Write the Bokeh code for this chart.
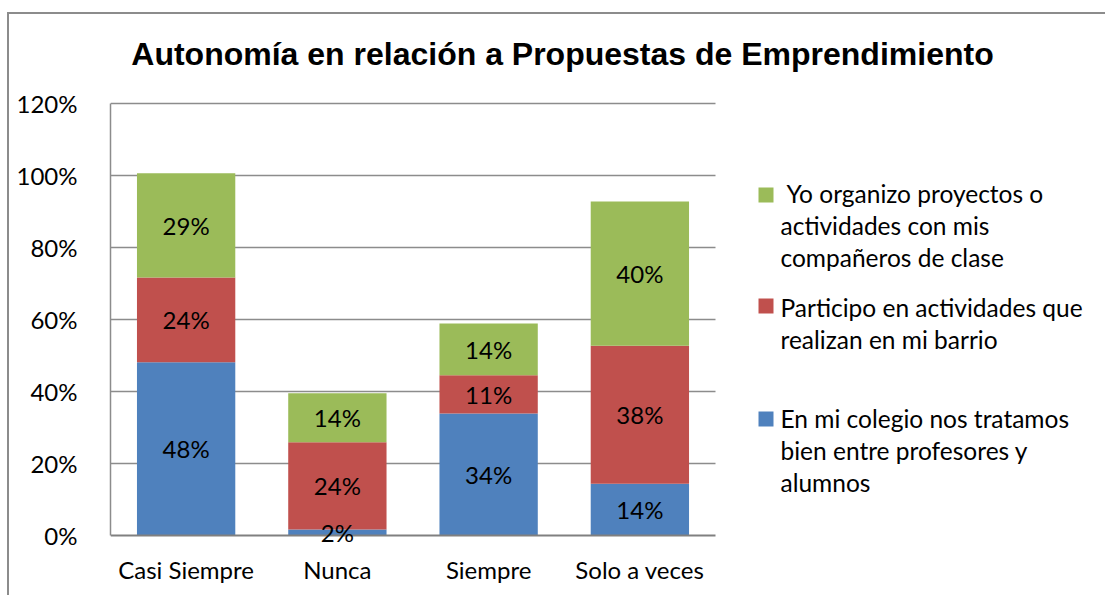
from bokeh.plotting import figure
from bokeh.models import ColumnDataSource, Range1d, FixedTicker
from bokeh.layouts import column
from bokeh.core.properties import value
from bokeh.embed import file_html
from bokeh.resources import INLINE

categories = ["Casi Siempre", "Nunca", "Siempre", "Solo a veces"]
colegio = [48.1, 1.7, 33.9, 14.4]
barrio = [23.6, 24.2, 10.6, 38.3]
proyectos = [28.9, 13.6, 14.4, 40.1]
series_keys = ["colegio", "barrio", "proyectos"]
series_colors = ["#4F81BD", "#C0504D", "#9BBB59"]
legend_labels = [
    [" Yo organizo proyectos o", "actividades con mis", "compañeros de clase"],
    ["Participo en actividades que", "realizan en mi barrio"],
    ["En mi colegio nos tratamos", "bien entre profesores y", "alumnos"],
]
y_ticks = [0, 20, 40, 60, 80, 100, 120]
title_text = "Autonomía en relación a Propuestas de Emprendimiento"

FONT = "Lato"
FS = "24px"
GRID = "#8c8c8c"

# page layout (px)
OX, OY = 9, 14              # canvas origin on page (after outer frame border)
PAGE_W, PAGE_H = 1105, 595
F_LEFT, F_TOP = 110, 20     # drawing frame top-left on page; frame spans to right edge
ZERO_Y = 535                # page y of the 0% baseline
F_BOT = 548                 # frame bottom (a little below 0% so low labels are not clipped)
CAT_PX = 605 / len(categories)          # px per category slot
PCT_PX = 3.6                            # px per percent

W, H = PAGE_W - OX, PAGE_H - OY


def dx(px):  # page x -> data x
    return (px - F_LEFT) / CAT_PX


def dy(py):  # page y -> data y
    return (ZERO_Y - py) / PCT_PX


xpos = [i + 0.5 for i in range(len(categories))]
src = ColumnDataSource(dict(x=xpos, colegio=colegio, barrio=barrio, proyectos=proyectos))

p = figure(x_range=Range1d(0, dx(PAGE_W)), y_range=Range1d(dy(F_BOT), dy(F_TOP)),
           width=W, height=H, output_backend="svg", toolbar_location=None,
           min_border_left=F_LEFT - OX, min_border_right=0, min_border_top=F_TOP - OY,
           min_border_bottom=H - (F_BOT - OY))
p.outline_line_color = None
p.background_fill_color = "white"
p.border_fill_color = "white"
p.xgrid.grid_line_color = None
p.ygrid.grid_line_color = None

# horizontal gridlines limited to the category area
gt = [t for t in y_ticks if t > 0]
p.segment(x0=[0] * len(gt), x1=[len(categories)] * len(gt), y0=gt, y1=gt,
          line_color=GRID, line_width=1.5)

p.vbar_stack(series_keys, x="x", width=0.65, color=series_colors, source=src, line_color=None)

# category axis baseline at 0%
p.segment(x0=[0], x1=[len(categories)], y0=[0], y1=[0], line_color="#808080", line_width=2)

# data labels
lx, ly, lt = [], [], []
for i in range(len(categories)):
    base = 0
    for arr in (colegio, barrio, proyectos):
        v = arr[i]
        lx.append(xpos[i])
        ly.append(base + v / 2)
        lt.append(f"{round(v)}%")
        base += v
p.text(x=lx, y=ly, text=lt, text_align="center", text_baseline="middle",
       text_font=value(FONT), text_font_size=FS, text_color="black")

# axes
p.yaxis.ticker = FixedTicker(ticks=y_ticks)
p.yaxis.major_label_overrides = {t: f"{t}%" for t in y_ticks}
p.yaxis.bounds = (0, y_ticks[-1])
p.yaxis.major_label_text_font = FONT
p.yaxis.major_label_text_font_size = FS
p.yaxis.major_label_text_color = "black"
p.yaxis.axis_line_color = GRID
p.yaxis.axis_line_width = 1.5
p.yaxis.major_tick_line_color = None
p.yaxis.minor_tick_line_color = None
p.yaxis.major_label_standoff = 27

p.xaxis.ticker = FixedTicker(ticks=xpos)
p.xaxis.major_label_overrides = {x: c for x, c in zip(xpos, categories)}
p.xaxis.major_label_text_font = FONT
p.xaxis.major_label_text_font_size = FS
p.xaxis.major_label_text_color = "black"
p.xaxis.axis_line_color = None
p.xaxis.major_tick_line_color = None
p.xaxis.minor_tick_line_color = None
p.xaxis.major_label_standoff = 13 - (F_BOT - ZERO_Y)

# title (inside the drawing frame, above the bars)
p.text(x=[dx(562)], y=[dy(53)], text=[title_text], text_align="center", text_baseline="middle",
       text_font=value("Liberation Sans"), text_font_style="bold", text_font_size="32px",
       text_color="black")

# legend (drawn inside the frame area, right of the bars)
legend_rows = [(193, 187), (307, 298), (418, 411)]  # first-line centre y, square top y (page px)
tx, ty, tt = [], [], []
qx0, qx1, qt, qb, qc = [], [], [], [], []
for (y0, sq), lines, col in zip(legend_rows, legend_labels, series_colors[::-1]):
    qx0.append(dx(758)); qx1.append(dx(773)); qt.append(dy(sq)); qb.append(dy(sq + 15)); qc.append(col)
    for k, line in enumerate(lines):
        lead = 6 if line.startswith(" ") else 0
        tx.append(dx(780 + lead)); ty.append(dy(y0 + 32 * k)); tt.append(line)
p.quad(left=qx0, right=qx1, top=qt, bottom=qb, fill_color=qc, line_color=None)
p.text(x=tx, y=ty, text=tt, text_baseline="middle", text_align="left",
       text_font=value(FONT), text_font_size="24.5px", text_color="black")

layout = column(p, margin=(OY - 2, 0, 0, OX - 2),
                styles={"border-left": "2px solid #8c8c8c", "border-top": "2px solid #8c8c8c"})

open("out.html", "w").write(file_html(layout, INLINE))
